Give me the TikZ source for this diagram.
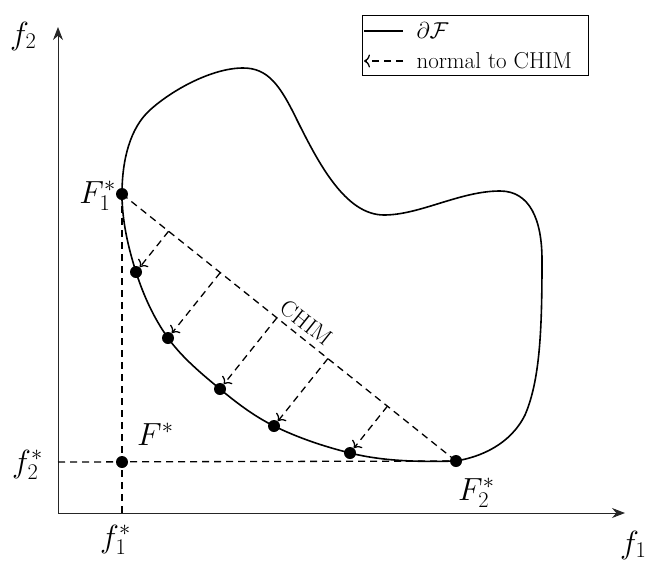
\RequirePackage{fix-cm}
\documentclass[tikz,border=0pt]{standalone}
\usetikzlibrary{arrows.meta,calc}

\tikzset{
  axis/.style={line width=1pt, black!85, -{Stealth[length=13pt,width=10pt]}},
  boundary/.style={line width=1.6pt},
  guide/.style={line width=1.3pt, dash pattern=on 7pt off 5pt},
  normline/.style={guide, -{To[length=6pt,width=13pt]}},
  dot/.style={circle, fill=black, inner sep=0pt, minimum size=12pt},
  lbl/.style={font=\fontsize{32}{34}\selectfont, inner sep=0pt},
  txt/.style={font=\fontsize{23}{26}\selectfont}
}

\begin{document}
\begin{tikzpicture}[x=1pt, y=-1pt]
  \useasboundingbox (0,0) rectangle (652,562);

  % points on the front
  \coordinate (F1) at (122,194);
  \coordinate (P1) at (136,272);
  \coordinate (P2) at (168,338);
  \coordinate (P3) at (220,389);
  \coordinate (P4) at (274,426);
  \coordinate (P5) at (350,453);
  \coordinate (F2) at (456,461);
  \coordinate (Fs) at (122,462);

  % axes
  \coordinate (O) at (58,513);
  \coordinate (xend) at (625,513);
  \coordinate (yend) at (58,27);
  \coordinate (f1foot) at (122,513);
  \coordinate (f2foot) at (58,462);
  \draw[axis] (O) -- (xend);
  \draw[axis] (O) -- (yend);
  \node[lbl, anchor=base west] (f1) at (620,553) {$f_1$};
  \node[lbl, anchor=base west] (f2) at (10,44) {$f_2$};

  % boundary of the feasible set
  \draw[boundary] (F1)
    .. controls (122,160) and (130,128) .. (150,110)
    .. controls (172,90) and (212,68) .. (243,68)
    .. controls (268,68) and (280,85) .. (297,120)
    .. controls (318,162) and (345,215) .. (384,215)
    .. controls (420,215) and (460,191) .. (500,191)
    .. controls (530,191) and (542,220) .. (542,260)
    .. controls (542,330) and (540,380) .. (525,415)
    .. controls (510,445) and (480,457) .. (F2)
    .. controls (421,462) and (384,461.5) .. (P5)
    .. controls (323.8,446.4) and (298.2,437.9) .. (P4)
    .. controls (254.3,416.3) and (236.9,403.1) .. (P3)
    .. controls (201.5,373.7) and (182,357.5) .. (P2)
    .. controls (153.8,318.2) and (143.4,295.2) .. (P1)
    .. controls (128,246.9) and (122,220.4) .. (F1) -- cycle;

  % utopia lines and CHIM
  \draw[guide] (F1) -- (f1foot);
  \draw[guide] (f2foot) -- (F2);
  \draw[guide] (F1) -- node[txt, sloped, above, pos=0.525, inner sep=6pt]
    (chim) {CHIM} (F2);

  % dots
  \node[dot] (dF1) at (F1) {};
  \node[dot] (dF2) at (F2) {};
  \node[dot] (dFs) at (Fs) {};
  \node[dot] (p1) at (P1) {};
  \node[dot] (p2) at (P2) {};
  \node[dot] (p3) at (P3) {};
  \node[dot] (p4) at (P4) {};
  \node[dot] (p5) at (P5) {};

  % normals to CHIM
  \draw[normline] ($(F1)!(P1)!(F2)$) -- (p1);
  \draw[normline] ($(F1)!(P2)!(F2)$) -- (p2);
  \draw[normline] ($(F1)!(P3)!(F2)$) -- (p3);
  \draw[normline] ($(F1)!(P4)!(F2)$) -- (p4);
  \draw[normline] ($(F1)!(P5)!(F2)$) -- (p5);

  % labels
  \node[lbl, anchor=base east] (lF1) at (116,203) {$F_1^*$};
  \node[lbl, anchor=base west] (lF2) at (458,500) {$F_2^*$};
  \node[lbl, anchor=base west] (lFs) at (137,445) {$F^*$};
  \node[lbl, anchor=base west] (lf1s) at (100,547) {$f_1^*$};
  \node[lbl, anchor=base west] (lf2s) at (12,472) {$f_2^*$};

  % legend
  \draw[line width=1pt] (362,15) rectangle (588,75);
  \coordinate (leg1a) at (364,31);
  \coordinate (leg1b) at (403,31);
  \coordinate (leg2a) at (403,61);
  \coordinate (leg2b) at (364,61);
  \draw[boundary] (leg1a) -- (leg1b);
  \draw[normline] (leg2a) -- (leg2b);
  \node[txt, anchor=west] (leg1) at (413,31) {$\partial\mathcal{F}$};
  \node[txt, anchor=west] (leg2) at (413,61) {normal to CHIM};
\end{tikzpicture}
\end{document}
